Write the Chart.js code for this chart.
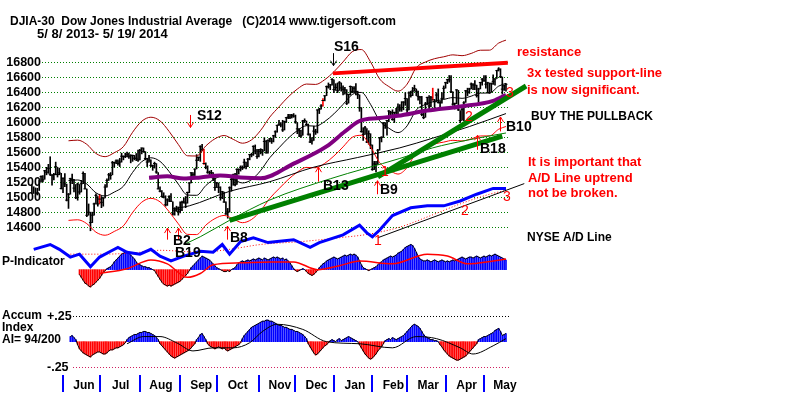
<!DOCTYPE html>
<html>
<head>
<meta charset="utf-8">
<script src="https://cdn.jsdelivr.net/npm/chart.js@4.4.1/dist/chart.umd.min.js"></script>
<style>
  html, body { margin: 0; padding: 0; background: #fff; }
  #wrap { width: 800px; height: 395px; }
</style>
</head>
<body>
<div id="wrap"><canvas id="chart" width="800" height="395"></canvas></div>
<script>
// DJIA daily bars, 5/8/2013 - 5/19/2014 (x = trading day number)
const closes = [
  15105,15083,15118,15092,15215,15276,15233,15354,15335,15388,15307,15295,15303,15409,15303,15325,15116,
  15254,15178,14961,15041,15248,15239,15122,14995,15176,15070,15180,15318,15112,14758,14799,14660,14760,14910,15024,14910,
  14975,14932,14989,15136,15225,15300,15292,15461,15464,15484,15452,15471,15549,15544,15546,15568,15542,15556,15559,15522,15521,15500,
  15628,15658,15612,15519,15471,15498,15426,15420,15451,15338,15112,15081,15011,15003,14898,14964,15011,14946,14776,14825,14841,14810,
  14834,14931,14937,14923,15063,15191,15327,15301,15376,15495,15530,15677,15637,15451,15401,15335,15273,15328,15258,15130,
  15192,15133,14996,15073,14936,14777,14803,15126,15237,15301,15168,15374,15372,15400,15392,15468,15413,15509,15570,15569,15680,15619,15546,
  15616,15639,15618,15747,15594,15762,15783,15751,15822,15876,15962,15976,15967,15901,16010,16065,16073,16073,16097,16086,
  16009,15915,15890,15822,16020,16026,15973,15844,15739,15755,15885,15875,16168,16179,16221,16295,16358,16480,16478,16504,16577,
  16441,16470,16425,16531,16463,16445,16437,16258,16374,16482,16417,16459,16414,16373,16197,15879,15838,15929,15739,15849,15699,
  15373,15445,15440,15629,15794,15802,15995,15964,16028,16154,16130,16041,16133,16103,16207,16180,16198,16273,16322,
  16168,16396,16360,16422,16453,16419,16351,16340,16109,16066,16247,16336,16222,16331,16303,16277,16368,16269,16264,16323,16458,
  16533,16573,16573,16413,16246,16256,16437,16170,16027,16173,16263,16425,16409,16449,16514,16502,16501,16361,16449,16535,16581,
  16559,16513,16531,16401,16519,16551,16583,16695,16715,16614,16447,16491,16512
];
const highs = [
  15170,15140,15125,15120,15225,15285,15290,15360,15400,15440,15542,15300,15320,15470,15400,15390,15320,
  15260,15315,15175,15050,15255,15310,15240,15170,15190,15170,15225,15340,15320,15110,14910,14800,14800,14920,15045,15010,
  15040,15010,14995,15170,15245,15320,15330,15480,15470,15500,15500,15520,15590,15555,15590,15605,15590,15570,15565,15560,15585,15630,
  15640,15660,15660,15610,15520,15560,15500,15430,15470,15450,15330,15140,15090,15060,15020,14980,15020,15050,14940,14860,14880,14870,
  14940,14950,14990,15010,15070,15195,15330,15330,15380,15570,15540,15690,15709,15640,15460,15420,15350,15360,15330,15260,
  15200,15190,15140,15080,15070,14940,14850,15140,15250,15310,15320,15380,15380,15420,15420,15510,15470,15520,15575,15590,15690,15700,15640,
  15640,15650,15640,15797,15760,15770,15790,15790,15830,15890,15965,16030,16000,16030,16020,16070,16110,16110,16110,16120,
  16100,16000,15920,15900,16030,16050,16020,15980,15850,15800,15950,15910,16170,16190,16240,16320,16360,16490,16530,16510,16588,
  16573,16520,16530,16550,16530,16490,16470,16440,16380,16490,16480,16480,16520,16420,16370,16200,15930,15950,15920,15890,15850,
  15700,15480,15480,15640,15800,15810,16000,16000,16030,16160,16150,16170,16140,16190,16250,16240,16280,16280,16400,
  16320,16410,16420,16470,16500,16450,16420,16350,16350,16170,16270,16340,16360,16350,16460,16310,16400,16450,16290,16400,16490,
  16540,16580,16630,16630,16410,16260,16440,16430,16160,16190,16280,16430,16460,16460,16530,16520,16560,16500,16460,16540,16590,
  16630,16630,16540,16530,16530,16640,16590,16700,16735,16720,16610,16500,16520
];
const lows = [
  15050,15050,15040,15030,15090,15200,15205,15240,15300,15320,15290,15160,15230,15300,15270,15300,15110,
  15060,15140,14950,14850,15040,15180,15070,14980,14960,15040,15070,15180,15110,14740,14760,14551,14660,14760,14910,14880,
  14910,14860,14880,14990,15135,15225,15240,15300,15400,15450,15430,15410,15470,15500,15530,15540,15520,15460,15480,15500,15490,15480,
  15500,15580,15600,15500,15410,15470,15410,15360,15390,15320,15110,15070,15000,14990,14880,14890,14940,14940,14760,14760,14810,14760,
  14790,14820,14920,14860,14920,15060,15190,15270,15290,15380,15490,15480,15620,15440,15380,15320,15270,15270,15220,15090,
  15130,15060,14960,14980,14930,14770,14719,14800,15080,15160,15150,15170,15310,15350,15370,15390,15380,15410,15500,15540,15560,15580,15520,
  15540,15580,15560,15620,15590,15590,15740,15720,15740,15800,15870,15960,15940,15880,15900,16000,16050,16050,16060,16070,
  15990,15850,15810,15800,15830,16000,15960,15830,15730,15710,15760,15840,15860,16120,16180,16220,16290,16360,16460,16440,16500,
  16400,16430,16400,16430,16420,16370,16380,16240,16260,16370,16400,16400,16370,16320,16150,15870,15760,15840,15730,15710,15650,
  15360,15370,15340,15440,15630,15740,15800,15920,15830,16010,16080,16030,16000,16090,16100,16150,16150,16170,16230,
  16110,16170,16340,16360,16420,16360,16300,16250,16090,16050,16070,16240,16170,16210,16300,16200,16280,16260,16210,16260,16320,
  16460,16520,16540,16400,16230,16180,16250,16160,16000,16030,16020,16270,16360,16390,16450,16440,16440,16340,16270,16450,16500,
  16550,16460,16400,16390,16410,16510,16500,16590,16690,16600,16380,16430,16420
];
const signalDays = [37, 94, 159, 219];   // bars painted red

// month axis
const monthNames = ['Jun','Jul','Aug','Sep','Oct','Nov','Dec','Jan','Feb','Mar','Apr','May'];
const monthStartDays = [17, 37, 59, 81, 101, 124, 144, 165, 186, 205, 226, 247];
const priceTicks = [14600,14800,15000,15200,15400,15600,15800,16000,16200,16400,16600,16800];
const aiTicks = [25, -25];

// 21-day average and its bands, sampled every 5 days
const maDays = [20,25,30,35,40,45,50,55,60,65,70,75,80,85,90,95,100,105,110,115,120,125,130,135,140,145,150,155,160,165,170,175,180,185,190,195,200,205,210,215,220,225,230,235,240,245,250,255,259];
const ma21 = [15223,15231,15177,15059,15017,15069,15147,15332,15475,15528,15480,15343,15175,15029,15026,15156,15248,15291,15242,15191,15235,15358,15530,15662,15789,15892,15957,15952,16014,16116,16243,16375,16403,16244,16022,15925,15865,15956,16169,16242,16285,16309,16334,16324,16353,16394,16395,16487,16525];
const upperBand = [15756,15764,15708,15586,15543,15596,15677,15869,16017,16071,16022,15880,15706,15555,15552,15686,15782,15826,15775,15723,15768,15896,16074,16210,16342,16448,16515,16510,16574,16680,16812,16948,16977,16813,16583,16482,16420,16514,16735,16810,16855,16880,16906,16895,16925,16968,16969,17064,17103];
const lowerBand = [14690,14698,14646,14532,14491,14542,14617,14795,14933,14985,14938,14806,14644,14503,14500,14626,14714,14756,14709,14659,14702,14820,14986,15114,15236,15336,15399,15394,15454,15552,15674,15802,15829,15675,15461,15368,15310,15398,15603,15674,15714,15738,15762,15753,15781,15820,15821,15910,15947];

// 65-day average (purple)
const ma65Days = [64,74,83,92,103,114,125,143,161,171,179,190,200,216,234,252,259];
const ma65 = [15260,15280,15250,15265,15290,15265,15255,15450,15680,15880,16020,16060,16090,16160,16215,16290,16370];

// slow black and green averages
const slowDays = [77,86,108,130,154,178,201,219,239,259];
const slowLine = [14846,14885,15079,15208,15402,15532,15661,15791,15946,16120];
const greenDays = [83,92,108,130,163,201,219,238,259];
const greenLine = [14367,14471,14691,14963,15247,15519,15661,15765,15860];

// trendlines (day, price)
const resistDays = [164.5, 260];
const resistVals = [16658, 16800];
const supportADays = [108, 257];
const supportAVals = [14691, 15817];
const supportBDays = [189, 270];
const supportBVals = [15273, 16489];

// NYSE A/D line (relative units) and its average
const adDays = [0,1,10,15,21,26,32,37,43,47,52,59,65,70,76,83,92,99,104,108,114,121,129,134,143,152,157,170,179,183,186,190,197,207,216,225,234,243,252,259];
const adLine = [14,15,20,15,7,10,-3,7,13,17,12,10,15,8,3,8,13,12,20,10,23,27,22,23,25,17,22,30,40,32,28,35,50,58,60,60,65,72,78,78];
const adMaDays = [21,35,54,70,92,108,125,147,168,185,201,218,234,250,259];
const adMa = [10,10,11,14,12,15,20,23,27,31,38,50,62,72,76];
const adTrendDays = [189, 269];
const adTrendVals = [27, 83];

// P-Indicator, daily from day 26
const pStart = 26;
const pIndicator = [
  -100,-160,-220,-280,-300,-340,-360,-320,-300,-260,-220,-180,-120,-60,
  -20,20,40,60,
  100,160,200,240,280,320,340,360,380,340,300,260,220,
  160,120,100,80,60,60,40,40,20,0,-20,
  -80,-140,-200,-260,-300,-320,-340,-320,-340,-320,-300,-280,-260,-240,-200,-160,-120,-80,
  -20,40,80,120,160,
  200,240,280,260,240,220,200,160,120,80,
  40,20,0,-20,-40,-40,-20,-40,0,20,40,
  100,140,160,180,160,180,200,180,200,220,200,220,240,220,200,240,220,200,220,
  240,260,240,260,240,220,240,200,220,180,140,80,20,-20,-40,-20,0,
  20,0,-40,-80,-100,-120,-100,-60,-20,40,
  80,120,140,180,200,220,240,260,240,220,240,260,280,300,
  280,300,320,300,320,300,260,180,
  100,40,20,0,-20,0,20,40,60,100,
  140,160,200,220,240,260,280,260,280,300,340,360,
  380,420,460,480,500,520,500,440,360,280,220,
  200,180,180,200,180,160,180,200,180,160,180,200,180,160,
  180,160,180,200,180,200,220,240,260,240,220,240,260,
  260,240,260,280,260,240,260,280,260,280,300,280,300,320,300,280,260,
  240,220,200
];
const pMaDays = [37,52,65,74,85,92,99,114,130,143,156,168,179,197,216,227,238,252,259];
const pMa = [-80,20,200,120,-160,-80,100,140,160,160,0,80,180,120,320,280,120,180,220];

// Accumulation Index (hundredths), daily from day 21
const aiStart = 21;
const accumIndex = [
  5,6,4,2,
  -3,-7,-9,-11,-12,-13,-14,-15,-13,-12,-11,-10,-10,-11,-12,-12,-11,-9,-8,-8,-7,-6,-6,-5,-4,-3,-1,
  2,4,5,6,7,7,8,9,9,10,10,9,9,8,7,6,4,2,
  -2,-4,-6,-8,-10,-12,-14,-15,-16,-15,-14,-13,-12,-11,-10,-9,-8,-6,-4,-2,
  2,4,7,8,5,2,
  -2,-4,-5,-6,-7,-6,-5,-6,-7,-6,-8,-9,-8,-7,-6,-5,-4,-3,-1,
  3,6,8,10,12,14,15,16,17,18,19,20,20,21,21,
  20,20,19,18,17,16,16,15,14,14,13,12,12,11,10,10,9,8,7,5,3,
  -2,-5,-8,-11,-13,-12,-10,-8,-6,-4,-3,-1,
  1,2,1,0,2,3,1,2,3,4,5,4,3,2,1,0,
  -3,-6,-9,-12,-14,-16,-17,-16,-14,-12,-9,-7,-5,-2,
  1,2,3,2,4,3,2,3,4,5,6,
  8,10,12,14,16,17,16,15,13,10,7,
  5,4,3,2,2,1,1,0,
  -3,-5,-8,-10,-12,-14,-15,-16,-17,-18,-18,-17,-16,-15,-14,-12,-10,-8,-6,-4,-2,
  2,3,4,5,5,6,7,8,9,11,12,13,10,6,7,8
];
const aiMaDays = [52,61,70,79,88,99,110,119,126,134,148,161,179,197,210,221,234,241,252,259];
const aiMa = [-2,5,5,-1,-9,-6,-6,-1,10,17,12,0,-2,-6,5,3,-6,-12,-4,3];

// ---------------------------------------------------------------
const FONT = "'Liberation Sans', Arial, Helvetica, sans-serif";
const BLUE = '#0000ff', RED = '#ff0000', GREEN = '#008000';

function pairs(days, vals) {
  return days.map((d, i) => ({ x: d, y: vals[i] }));
}
function series(start, vals) {
  return vals.map((v, i) => ({ x: start + i, y: v }));
}
function line(data, axis, color, width, order, extra) {
  return Object.assign({
    type: 'line', data: data, yAxisID: axis,
    borderColor: color, borderWidth: width,
    pointRadius: 0, fill: false, clip: false, order: order,
    cubicInterpolationMode: 'monotone'
  }, extra || {});
}
function histogram(data, axis, order) {
  return {
    type: 'bar', data: data, yAxisID: axis,
    backgroundColor: data.map(p => p.y >= 0 ? BLUE : RED),
    barThickness: 1, grouped: false, clip: false, order: order
  };
}

// text and arrows drawn on top
const notes = [
  { t: 'DJIA-30  Dow Jones Industrial Average   (C)2014 www.tigersoft.com', x: 10, y: 22, c: '#000', f: 'bold 12px' },
  { t: '5/ 8/ 2013- 5/ 19/ 2014', x: 37, y: 34, c: '#000', f: 'bold 13px' },
  { t: 'S16', x: 334, y: 47, c: '#000', f: 'bold 14px' },
  { t: 'S12', x: 197, y: 116, c: '#000', f: 'bold 14px' },
  { t: 'B2', x: 173, y: 241, c: '#000', f: 'bold 14px' },
  { t: 'B19', x: 175, y: 253, c: '#000', f: 'bold 14px' },
  { t: 'B8', x: 230, y: 238, c: '#000', f: 'bold 14px' },
  { t: 'B13', x: 323, y: 186, c: '#000', f: 'bold 14px' },
  { t: 'B9', x: 380, y: 190, c: '#000', f: 'bold 14px' },
  { t: 'B18', x: 480, y: 149, c: '#000', f: 'bold 14px' },
  { t: 'B10', x: 506, y: 127, c: '#000', f: 'bold 14px' },
  { t: '1', x: 381, y: 172, c: RED, f: '14px' },
  { t: '2', x: 465, y: 117, c: RED, f: '14px' },
  { t: '3', x: 506, y: 93, c: RED, f: '14px' },
  { t: '1', x: 374, y: 241, c: RED, f: '14px' },
  { t: '2', x: 461, y: 211, c: RED, f: '14px' },
  { t: '3', x: 503, y: 197, c: RED, f: '14px' },
  { t: 'resistance', x: 517, y: 52, c: RED, f: 'bold 13px' },
  { t: '3x tested support-line', x: 527, y: 73, c: RED, f: 'bold 13px' },
  { t: 'is now significant.', x: 527, y: 90, c: RED, f: 'bold 13px' },
  { t: 'BUY THE PULLBACK', x: 531, y: 117, c: '#000', f: 'bold 12px' },
  { t: 'It is important that', x: 528, y: 162, c: RED, f: 'bold 13px' },
  { t: 'A/D Line uptrend', x: 528, y: 178, c: RED, f: 'bold 13px' },
  { t: 'not be broken.', x: 528, y: 193, c: RED, f: 'bold 13px' },
  { t: 'NYSE A/D Line', x: 527, y: 238, c: '#000', f: 'bold 12px' },
  { t: 'P-Indicator', x: 2, y: 262, c: '#000', f: 'bold 12px' },
  { t: 'Accum', x: 2, y: 316, c: '#000', f: 'bold 12px' },
  { t: 'Index', x: 2, y: 328, c: '#000', f: 'bold 12px' },
  { t: 'AI= 94/200', x: 2, y: 340, c: '#000', f: 'bold 12px' }
];
// arrows in chart units: day, price at tail, price at head
const arrows = [
  { day: 73.8, from: 14432, to: 14587, c: RED },
  { day: 79.8, from: 14432, to: 14587, c: RED },
  { day: 106.6, from: 14432, to: 14613, c: RED },
  { day: 156.3, from: 15208, to: 15402, c: RED },
  { day: 188.6, from: 15040, to: 15221, c: RED },
  { day: 243.2, from: 15635, to: 15830, c: RED },
  { day: 255.8, from: 15881, to: 16075, c: RED },
  { day: 86.4, from: 16101, to: 15933, c: RED },
  { day: 164.5, from: 16929, to: 16761, c: '#000' }
];

const annotate = {
  id: 'annotate',
  beforeDatasetsDraw(chart) {
    // dotted +.25 / -.25 lines of the Accum Index panel, right of their labels
    const ctx = chart.ctx, area = chart.chartArea, ai = chart.scales.yAI;
    ctx.save();
    ctx.lineWidth = 1;
    ctx.setLineDash([1, 2]);
    aiTicks.forEach(v => {
      const py = Math.round(ai.getPixelForValue(v)) + 0.5;
      ctx.strokeStyle = v > 0 ? '#000' : '#d02060';
      ctx.beginPath();
      ctx.moveTo(area.left + 31, py);
      ctx.lineTo(area.right, py);
      ctx.stroke();
    });
    ctx.restore();
  },
  afterDatasetsDraw(chart) {
    const ctx = chart.ctx;
    const xs = chart.scales.x, ys = chart.scales.y;
    ctx.save();
    // month separators under the plot
    ctx.fillStyle = BLUE;
    monthStartDays.forEach(d => {
      const px = Math.round(xs.getPixelForValue(d));
      ctx.fillRect(px - 1, xs.top, 2, 17);
    });
    ctx.lineWidth = 1;
    arrows.forEach(a => {
      const px = Math.round(xs.getPixelForValue(a.day)) + 0.5;
      const y1 = ys.getPixelForValue(a.from);
      const y2 = ys.getPixelForValue(a.to);
      const d = y2 < y1 ? 1 : -1;
      ctx.strokeStyle = a.c;
      ctx.beginPath();
      ctx.moveTo(px, y1); ctx.lineTo(px, y2);
      ctx.moveTo(px - 3, y2 + 5 * d); ctx.lineTo(px, y2); ctx.lineTo(px + 3, y2 + 5 * d);
      ctx.stroke();
    });
    ctx.textBaseline = 'middle';
    ctx.textAlign = 'left';
    notes.forEach(n => {
      ctx.font = n.f + ' ' + FONT;
      ctx.fillStyle = n.c;
      ctx.fillText(n.t, n.x, n.y);
    });
    ctx.restore();
  }
};

const priceBars = closes.map((c, i) => ({ x: i, y: [lows[i], highs[i]] }));
const closeTicks = closes.map((c, i) => ({ x: i, y: c }));
const pData = series(pStart, pIndicator);
const aiData = series(aiStart, accumIndex);

const datasets = [
  line(pairs(resistDays, resistVals), 'y', RED, 4, 1, { cubicInterpolationMode: 'default' }),
  line(pairs(supportADays, supportAVals), 'y', GREEN, 5, 1, { cubicInterpolationMode: 'default' }),
  line(pairs(supportBDays, supportBVals), 'y', GREEN, 5, 1, { cubicInterpolationMode: 'default' }),
  line(pairs(adTrendDays, adTrendVals), 'yAD', '#000', 1, 2, { cubicInterpolationMode: 'default' }),
  line(pairs(adDays, adLine), 'yAD', BLUE, 3, 2, { cubicInterpolationMode: 'default' }),
  line(pairs(adMaDays, adMa), 'yAD', RED, 1, 3, { borderDash: [1, 2] }),
  line(pairs(ma65Days, ma65), 'y', '#800080', 4, 3),
  line(pairs(maDays, ma21), 'y', '#000', 1, 4),
  line(pairs(slowDays, slowLine), 'y', '#000', 1, 4),
  line(pairs(greenDays, greenLine), 'y', GREEN, 1, 4),
  line(pairs(maDays, upperBand), 'y', '#a00000', 1, 4),
  line(pairs(maDays, lowerBand), 'y', RED, 1, 4),
  line(closeTicks, 'y', '#000', 0, 5, {
    showLine: false, pointStyle: 'line', pointRadius: 1.5,
    pointBorderColor: '#000', pointBorderWidth: 1
  }),
  {
    type: 'bar', data: priceBars, yAxisID: 'y',
    backgroundColor: closes.map((c, i) => signalDays.includes(i) ? RED : '#000'),
    barThickness: 1, grouped: false, clip: false, order: 5
  },
  line(pData, 'yP', '#000', 1, 5, { cubicInterpolationMode: 'default' }),
  line(pairs(pMaDays, pMa), 'yP', RED, 1.5, 4),
  histogram(pData, 'yP', 6),
  line(aiData, 'yAI', '#000', 1, 5, { cubicInterpolationMode: 'default' }),
  line(pairs(aiMaDays, aiMa), 'yAI', '#000', 1, 4),
  histogram(aiData, 'yAI', 6)
];

new Chart(document.getElementById('chart'), {
  type: 'bar',
  data: { datasets: datasets },
  options: {
    responsive: false,
    animation: false,
    events: [],
    layout: { autoPadding: false, padding: { left: 0, right: 290, top: 0, bottom: 0 } },
    plugins: { legend: { display: false }, tooltip: { enabled: false }, title: { display: false } },
    scales: {
      x: {
        type: 'linear', position: 'bottom', offset: false,
        min: 5.52, max: 261.2,
        afterFit: s => { s.height = 20; },
        afterBuildTicks: s => { s.ticks = monthStartDays.map(v => ({ value: v })); },
        grid: { display: false, drawTicks: true, tickLength: 17 },
        border: { display: false },
        ticks: {
          autoSkip: false, maxRotation: 0, padding: -14, labelOffset: 21,
          color: '#000', font: { family: FONT, size: 12, weight: 'bold' },
          callback: (v, i) => monthNames[i]
        }
      },
      y: {
        position: 'left', weight: 1, min: 12620, max: 17473,
        afterFit: s => { s.width = 42; },
        afterBuildTicks: s => { s.ticks = priceTicks.map(v => ({ value: v })); },
        grid: { color: GREEN, lineWidth: 1, drawTicks: false },
        border: { display: false, dash: [1, 2] },
        ticks: {
          padding: 1, color: '#000', font: { family: FONT, size: 12.5, weight: 'bold' },
          callback: v => String(v)
        }
      },
      yAI: {
        position: 'left', weight: 0, min: -32.5, max: 321.2,
        afterFit: s => { s.width = 0; },
        afterBuildTicks: s => { s.ticks = aiTicks.map(v => ({ value: v })); },
        grid: { display: false },
        border: { display: false },
        ticks: {
          mirror: true, padding: 5, color: '#000',
          font: { family: FONT, size: 12.5, weight: 'bold' },
          callback: v => v > 0 ? '+.25' : '-.25'
        }
      },
      yAD: { display: false, min: -115, max: 260 },
      yP: { display: false, min: -2180, max: 5320 }
    }
  },
  plugins: [annotate]
});
</script>
</body>
</html>
